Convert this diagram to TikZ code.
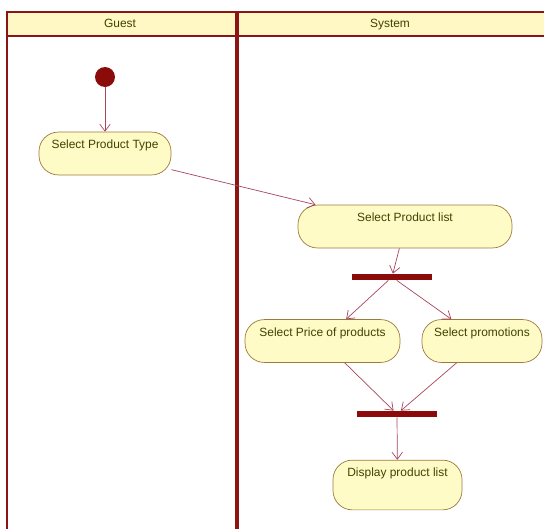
\documentclass[tikz,border=0pt]{standalone}
\usepackage{fontspec}
\setmainfont{Liberation Sans}
\usetikzlibrary{arrows.meta}
\definecolor{laneline}{HTML}{8B1515}
\definecolor{headfill}{HTML}{FFF8C4}
\definecolor{actfill}{HTML}{FFFBC6}
\definecolor{actline}{HTML}{9C7A3C}
\definecolor{acttext}{HTML}{3F4200}
\definecolor{flowline}{HTML}{A8445C}
\definecolor{barfill}{HTML}{8B0A0A}

\begin{document}
\begin{tikzpicture}[x=0.02cm, y=-0.02cm,
	action/.style={draw=actline, fill=actfill, text=acttext, rounded corners=11pt,
		font=\fontsize{6.8}{8}\selectfont, inner xsep=2pt, inner ysep=4.5pt,
		text height=5pt, text depth=#1},
	action/.default=10.4pt,
	syncbar/.style={fill=barfill, minimum width=1.6cm, minimum height=0.12cm, inner sep=0pt},
	flow/.style={draw=flowline, -{Straight Barb[length=4pt, width=6pt]}},
	lanetitle/.style={text=acttext, font=\fontsize{6.8}{8}\selectfont,
		text height=5pt, text depth=1.5pt}]

	\useasboundingbox (0,0) rectangle (544,528);

	% swimlanes
	\draw[laneline, fill=headfill, line width=1.2pt] (7,12) rectangle (546,36);
	\draw[laneline, line width=1.2pt] (7,36) -- (7,530);
	\draw[laneline, line width=2.4pt] (237,12) -- (237,530);
	\node[lanetitle] (guest) at (120,24) {Guest};
	\node[lanetitle] (system) at (390,24) {System};

	% activities
	\node[circle, fill=barfill, minimum size=0.4cm, inner sep=0pt] (start) at (105,77) {};
	\node[action, minimum width=2.64cm] (spt) at (105,153.5) {Select Product Type};
	\node[action, minimum width=4.28cm] (spl) at (405,226.5) {Select Product list};
	\node[syncbar] (fork) at (392,277) {};
	\node[action, minimum width=3.1cm] (price) at (322.5,341) {Select Price of products};
	\node[action, minimum width=2.4cm] (promo) at (482,341) {Select promotions};
	\node[syncbar] (join) at (397,414) {};
	\node[action=14.3pt, minimum width=2.58cm] (disp) at (397.5,485) {Display product list};

	% flows
	\draw[flow] (start) -- (spt);
	\draw[flow] (spt) -- (spl);
	\draw[flow] (spl) -- (fork);
	\draw[flow] (fork) -- (price);
	\draw[flow] (fork) -- (promo);
	\draw[flow] (price) -- (join);
	\draw[flow] (promo) -- (join);
	\draw[flow] (join) -- (disp);

\end{tikzpicture}
\end{document}
